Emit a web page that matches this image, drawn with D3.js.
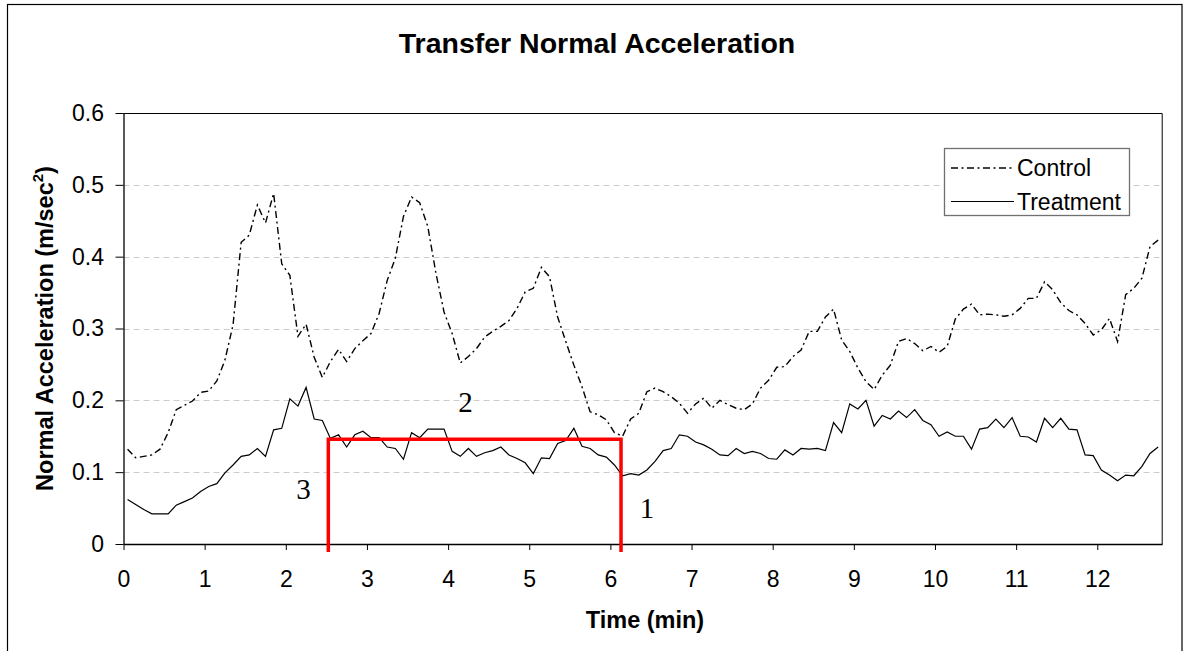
<!DOCTYPE html>
<html>
<head>
<meta charset="utf-8">
<script src="https://cdn.jsdelivr.net/npm/d3@7/dist/d3.min.js"></script>
<style>
  html, body { margin: 0; padding: 0; background: #fff; }
  svg { display: block; }
  text { font-family: "Liberation Sans", Arial, sans-serif; fill: #000; }
</style>
</head>
<body>
<svg id="chart" width="1188" height="651"></svg>
<script>
// ---------------- data ----------------
const times = [
  0.05,0.15,0.25,0.35,0.45,0.55,0.65,0.75,0.85,0.95,
  1.05,1.15,1.25,1.35,1.45,1.55,1.65,1.75,1.85,1.95,
  2.05,2.15,2.25,2.35,2.45,2.55,2.65,2.75,2.85,2.95,
  3.05,3.15,3.25,3.35,3.45,3.55,3.65,3.75,3.85,3.95,
  4.05,4.15,4.25,4.35,4.45,4.55,4.65,4.75,4.85,4.95,
  5.05,5.15,5.25,5.35,5.45,5.55,5.65,5.75,5.85,5.95,
  6.05,6.15,6.25,6.35,6.45,6.55,6.65,6.75,6.85,6.95,
  7.05,7.15,7.25,7.35,7.45,7.55,7.65,7.75,7.85,7.95,
  8.05,8.15,8.25,8.35,8.45,8.55,8.65,8.75,8.85,8.95,
  9.05,9.15,9.25,9.35,9.45,9.55,9.65,9.75,9.85,9.95,
  10.05,10.15,10.25,10.35,10.45,10.55,10.65,10.75,10.85,10.95,
  11.05,11.15,11.25,11.35,11.45,11.55,11.65,11.75,11.85,11.95,
  12.05,12.15,12.25,12.35,12.45,12.55,12.65,12.75
];
const control = [
  0.132,0.120,0.122,0.124,0.132,0.155,0.187,0.193,0.199,0.211,
  0.213,0.227,0.256,0.305,0.420,0.430,0.472,0.447,0.488,0.390,
  0.374,0.289,0.306,0.260,0.232,0.254,0.271,0.254,0.272,0.283,
  0.293,0.321,0.367,0.398,0.456,0.483,0.475,0.442,0.377,0.323,
  0.293,0.252,0.261,0.272,0.288,0.296,0.303,0.311,0.328,0.351,
  0.356,0.385,0.372,0.316,0.282,0.249,0.219,0.184,0.180,0.173,
  0.155,0.150,0.174,0.182,0.212,0.217,0.212,0.205,0.196,0.182,
  0.195,0.203,0.189,0.200,0.194,0.189,0.187,0.195,0.217,0.228,
  0.246,0.247,0.261,0.270,0.296,0.296,0.316,0.327,0.284,0.268,
  0.245,0.226,0.215,0.235,0.249,0.282,0.286,0.279,0.269,0.275,
  0.267,0.275,0.313,0.327,0.334,0.319,0.320,0.319,0.317,0.319,
  0.328,0.342,0.342,0.365,0.354,0.336,0.325,0.319,0.307,0.291,
  0.298,0.314,0.282,0.347,0.356,0.370,0.414,0.423
];
const treatment = [
  0.062,0.055,0.048,0.042,0.042,0.042,0.054,0.059,0.064,0.073,
  0.080,0.084,0.099,0.110,0.122,0.124,0.133,0.122,0.159,0.161,
  0.202,0.192,0.218,0.174,0.172,0.147,0.152,0.135,0.152,0.157,
  0.148,0.148,0.135,0.133,0.118,0.155,0.148,0.160,0.160,0.160,
  0.129,0.122,0.133,0.122,0.127,0.130,0.135,0.124,0.119,0.113,
  0.098,0.120,0.119,0.140,0.144,0.161,0.136,0.133,0.124,0.121,
  0.110,0.095,0.098,0.096,0.103,0.115,0.130,0.133,0.152,0.150,
  0.142,0.138,0.132,0.124,0.123,0.133,0.126,0.129,0.126,0.119,
  0.118,0.131,0.124,0.133,0.132,0.133,0.130,0.169,0.155,0.195,
  0.188,0.200,0.164,0.179,0.174,0.185,0.176,0.187,0.172,0.166,
  0.150,0.156,0.150,0.150,0.132,0.160,0.162,0.174,0.162,0.176,
  0.150,0.149,0.142,0.175,0.162,0.175,0.160,0.159,0.124,0.123,
  0.103,0.096,0.088,0.096,0.095,0.108,0.126,0.135
];
const xTicks = [0,1,2,3,4,5,6,7,8,9,10,11,12];
const yTicks = [0,0.1,0.2,0.3,0.4,0.5,0.6];
const yTickLabels = ["0","0.1","0.2","0.3","0.4","0.5","0.6"];
const seriesNames = ["Control","Treatment"];
// red annotation bracket (time, value)
const bracketT = [2.524, 2.524, 6.131, 6.131];
const bracketV = [-0.011, 0.1457, 0.1457, -0.011];
// numbered annotations
const annoText = ["3","2","1"];
const annoT = [2.218, 4.214, 6.451];
const annoV = [0.0627, 0.1834, 0.0358];

// ---------------- chart ----------------
const svg = d3.select("#chart");
const x = d3.scaleLinear().domain([0, 12.8]).range([123.5, 1162.2]);
const y = d3.scaleLinear().domain([0, 0.6]).range([544, 113]);

// outer frame
svg.append("rect").attr("x", 7.5).attr("y", 4.5).attr("width", 1174.5).attr("height", 660)
  .attr("fill", "#fff").attr("stroke", "#000").attr("stroke-width", 1.2);

// gridlines
svg.append("g").selectAll("line").data(yTicks.filter(d => d > 0 && d < 0.6)).join("line")
  .attr("x1", x(0)).attr("x2", x(12.8))
  .attr("y1", d => Math.round(y(d)) + 0.5).attr("y2", d => Math.round(y(d)) + 0.5)
  .attr("stroke", "#cccccc").attr("stroke-width", 1).attr("stroke-dasharray", "6,4");

// plot border top & right
svg.append("path")
  .attr("d", `M${x(0)},${Math.round(y(0.6))+0.5} H${x(12.8)} V${y(0)}`)
  .attr("fill", "none").attr("stroke", "#000").attr("stroke-width", 1);

// axes
const yAxis = d3.axisLeft(y).tickValues(yTicks).tickSize(8).tickSizeOuter(0).tickPadding(11.5)
  .tickFormat((d, i) => yTickLabels[i]);
const gy = svg.append("g").attr("transform", `translate(${x(0)},0)`).call(yAxis);
const xAxis = d3.axisBottom(x).tickValues(xTicks).tickSize(6).tickSizeOuter(0).tickPadding(20.5)
  .tickFormat(d => String(d));
const gx = svg.append("g").attr("transform", `translate(0,${y(0)})`).call(xAxis);
[gx, gy].forEach(g => {
  g.select(".domain").attr("stroke", "#000").attr("stroke-width", 1.3);
  g.selectAll(".tick line").attr("stroke", "#000");
  g.selectAll(".tick text").attr("font-size", 23).attr("font-family", "Liberation Sans, Arial, sans-serif").attr("fill", "#000");
});

// lines
const pts = vals => vals.map((v, i) => [times[i], v]);
const line = d3.line().x(d => x(d[0])).y(d => y(d[1]));
svg.append("path").datum(pts(control)).attr("d", line)
  .attr("fill", "none").attr("stroke", "#000").attr("stroke-width", 1.4)
  .attr("stroke-dasharray", "7,3.5,2,3.5");
svg.append("path").datum(pts(treatment)).attr("d", line)
  .attr("fill", "none").attr("stroke", "#000").attr("stroke-width", 1.2);

// red bracket
svg.append("path").datum(bracketT.map((t, i) => [t, bracketV[i]])).attr("d", line)
  .attr("fill", "none").attr("stroke", "#ff0000").attr("stroke-width", 3.5);

// numbered annotations
svg.append("g").selectAll("text").data(annoText).join("text")
  .attr("x", (d, i) => x(annoT[i])).attr("y", (d, i) => y(annoV[i]))
  .attr("text-anchor", "middle")
  .style("font-family", "'Liberation Serif', 'Times New Roman', serif")
  .attr("font-size", 29).text(d => d);

// title
svg.append("text").attr("x", 597).attr("y", 53).attr("text-anchor", "middle")
  .attr("font-size", 28.5).attr("font-weight", "bold").text("Transfer Normal Acceleration");

// x axis title
svg.append("text").attr("x", 645).attr("y", 628).attr("text-anchor", "middle")
  .attr("font-size", 23.5).attr("font-weight", "bold").text("Time (min)");

// y axis title
const yt = svg.append("text")
  .attr("transform", `translate(53,${(y(0) + y(0.6)) / 2}) rotate(-90)`)
  .attr("text-anchor", "middle").attr("font-size", 23.5).attr("font-weight", "bold");
yt.append("tspan").text("Normal Acceleration (m/sec");
yt.append("tspan").attr("font-size", 15).attr("dy", -10).text("2");
yt.append("tspan").attr("dy", 10).text(")");

// legend
const lg = svg.append("g");
lg.append("rect").attr("x", 944.5).attr("y", 148.5).attr("width", 185).attr("height", 67)
  .attr("fill", "#fff").attr("stroke", "#707070").attr("stroke-width", 1.3);
const legY = [168, 201.5];
lg.selectAll("line.s").data(seriesNames).join("line").attr("class", "s")
  .attr("x1", 951).attr("x2", 1014)
  .attr("y1", (d, i) => legY[i]).attr("y2", (d, i) => legY[i])
  .attr("stroke", "#000").attr("stroke-width", (d, i) => i === 0 ? 1.4 : 1.2)
  .attr("stroke-dasharray", (d, i) => i === 0 ? "7,3.5,2,3.5" : null);
lg.selectAll("text").data(seriesNames).join("text")
  .attr("x", 1017).attr("y", (d, i) => legY[i] + 8)
  .attr("font-size", 23).text(d => d);
</script>
</body>
</html>
